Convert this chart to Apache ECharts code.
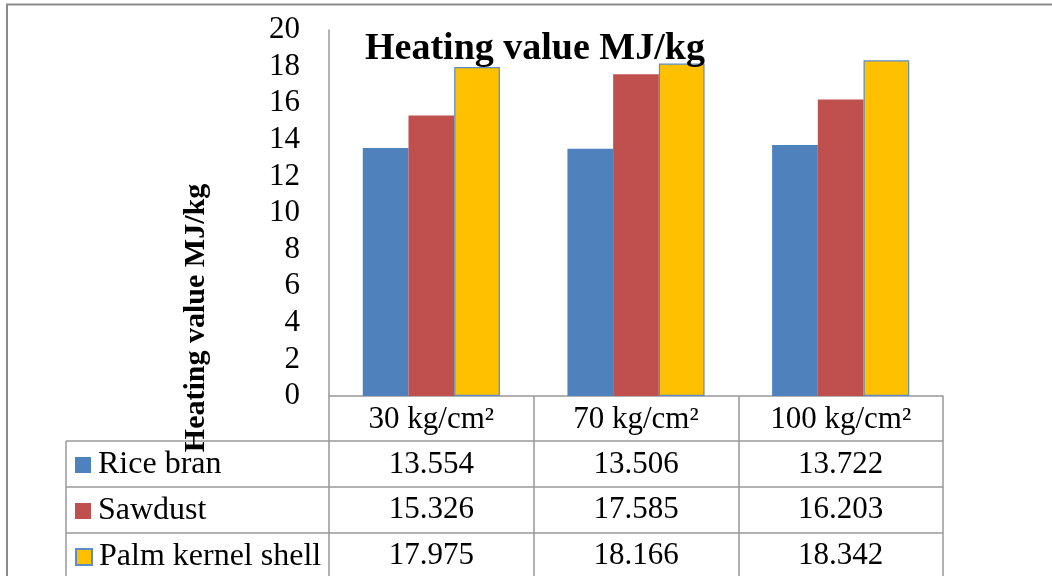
<!DOCTYPE html>
<html>
<head>
<meta charset="utf-8">
<script src="https://cdn.jsdelivr.net/npm/echarts@6/dist/echarts.min.js"></script>
<style>
html,body{margin:0;padding:0;background:#fff;}
#chart{width:1052px;height:576px;}
</style>
</head>
<body>
<div id="chart"></div>
<script>
var categories = ['30 kg/cm\u00B2', '70 kg/cm\u00B2', '100 kg/cm\u00B2'];
var seriesNames = ['Rice bran', 'Sawdust', 'Palm kernel shell'];
var riceBran = [13.554, 13.506, 13.722];
var sawdust = [15.326, 17.585, 16.203];
var palmKernelShell = [17.975, 18.166, 18.342];
var yTicks = {min: 0, max: 20, interval: 2};
var titleText = 'Heating value MJ/kg';
var yTitleText = 'Heating value MJ/kg';

var FONT = '"Liberation Serif", "Times New Roman", serif';
var LINE = '#989898';
var colors = ['#4F81BD', '#C0504D', '#FFC000'];
var seriesData = [riceBran, sawdust, palmKernelShell];

var chart = echarts.init(document.getElementById('chart'), null, {renderer: 'canvas'});

var gridTop = 30, gridBottomY = 396, gridLeft = 329, gridRightX = 943;
var rowOffsets = [45, 90, 136];

var xAxes = [{
  type: 'category',
  data: categories,
  position: 'bottom',
  axisLine: {show: true, lineStyle: {color: LINE, width: 1.5}},
  axisTick: {show: true, length: 190, lineStyle: {color: LINE, width: 1.5}},
  axisLabel: {fontFamily: FONT, fontSize: 31, color: '#000', margin: 24, verticalAlign: 'middle'},
  splitLine: {show: false}
}];
seriesData.forEach(function (arr, i) {
  xAxes.push({
    type: 'category',
    data: categories,
    position: 'bottom',
    offset: rowOffsets[i],
    axisLine: {show: false},
    axisTick: {show: false},
    splitLine: {show: false},
    axisLabel: {
      fontFamily: FONT, fontSize: 31, color: '#000', margin: 24, verticalAlign: 'middle',
      formatter: function (v, idx) { return arr[idx].toFixed(3); }
    }
  });
});

var legends = seriesNames.map(function (n, i) {
  return {
    data: [n],
    left: 75,
    top: 449 + i * 46,
    padding: 0,
    itemWidth: 16,
    itemHeight: 16,
    icon: 'rect',
    itemGap: 8,
    selectedMode: false,
    textStyle: {fontFamily: FONT, fontSize: 32, color: '#000', padding: [0, 0, 0, 2]}
  };
});

var series = seriesNames.map(function (n, i) {
  var st = {color: colors[i]};
  if (i === 2) { st.borderColor = '#5B8CC6'; st.borderWidth = 1.2; }
  return {
    name: n,
    type: 'bar',
    data: seriesData[i],
    barGap: '0%',
    barCategoryGap: '33%',
    itemStyle: st,
    emphasis: {disabled: true}
  };
});

var hLines = [441, 487, 533].map(function (y) {
  return {type: 'line', shape: {x1: 66, y1: y, x2: gridRightX, y2: y}, style: {stroke: LINE, lineWidth: 1.5}, z: 10};
});

var option = {
  animation: false,
  backgroundColor: '#fff',
  title: {
    text: titleText,
    left: 365,
    top: 30,
    padding: 0,
    textStyle: {fontFamily: FONT, fontSize: 38, fontWeight: 'bold', color: '#000'}
  },
  legend: legends,
  grid: {left: gridLeft, top: gridTop, width: gridRightX - gridLeft, height: gridBottomY - gridTop, containLabel: false},
  xAxis: xAxes,
  yAxis: {
    type: 'value',
    min: yTicks.min, max: yTicks.max, interval: yTicks.interval,
    axisLine: {show: true, lineStyle: {color: LINE, width: 1.5}},
    axisTick: {show: false},
    splitLine: {show: false},
    axisLabel: {fontFamily: FONT, fontSize: 31, color: '#000', margin: 29}
  },
  series: series,
  graphic: [
    {type: 'rect', shape: {x: 7, y: 4.5, width: 1200, height: 700}, style: {fill: 'none', stroke: '#8a8a8a', lineWidth: 2}, z: 10},
    {type: 'line', shape: {x1: 66, y1: 441, x2: 66, y2: 600}, style: {stroke: LINE, lineWidth: 1.5}, z: 10}
  ].concat(hLines).concat([
    {type: 'text', x: 196, y: 318, rotation: Math.PI / 2, z: 20,
     style: {text: yTitleText, fontFamily: FONT, fontSize: 30, fontWeight: 'bold', fill: '#000', align: 'center', verticalAlign: 'middle'}}
  ])
};
chart.setOption(option);
</script>
</body>
</html>
